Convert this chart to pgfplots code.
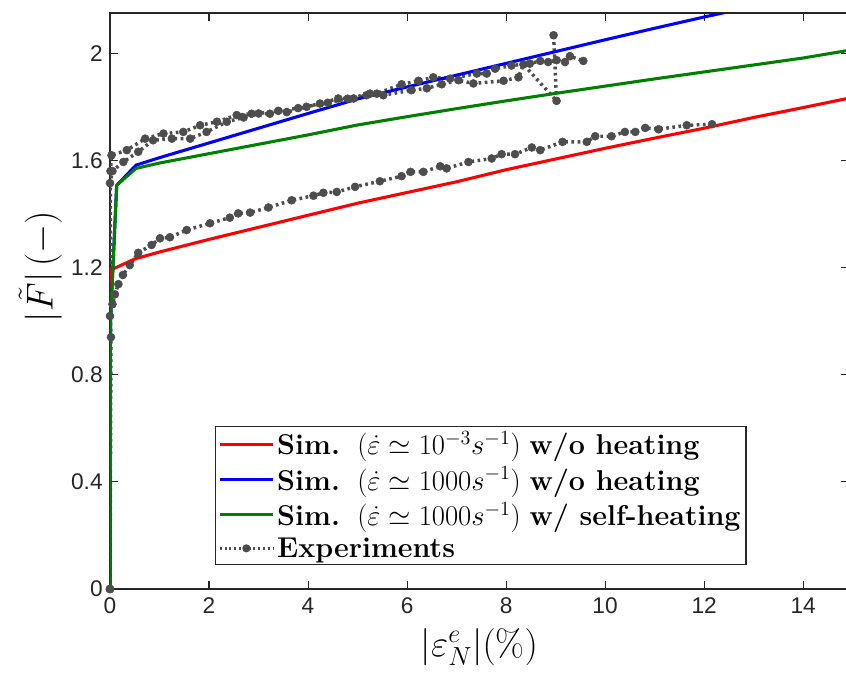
\RequirePackage{fix-cm}
\documentclass[border=0pt]{standalone}
\usepackage{fontspec}
\usepackage{pgfplots}
\pgfplotsset{compat=1.18}
\newfontfamily\tickfont{Liberation Sans}
\definecolor{expgray}{RGB}{77,77,77}
\definecolor{mgreen}{RGB}{0,128,0}
\definecolor{axgray}{RGB}{38,38,38}
\pgfplotsset{
  expstyle/.style={expgray, line width=2.6pt, line cap=butt, dash pattern=on 2pt off 2.6pt, mark=*, mark size=3pt, mark options={solid, fill=expgray, draw=expgray, line width=0.4pt}},
  simstyle/.style={line width=2.3pt, line join=round, no marks},
}
\begin{document}
\begin{tikzpicture}
\begin{axis}[
  scale only axis, width=554pt, height=432pt,
  xmin=0, xmax=14.92, ymin=0, ymax=2.15,
  xtick={0,2,4,6,8,10,12,14},
  xticklabels={0,2,4,6,8,10,12,14},
  ytick={0,0.4,0.8,1.2,1.6,2},
  yticklabels={0,0.4,0.8,1.2,1.6,2},
  tick align=inside, major tick length=6pt,
  xtick pos=both, ytick pos=both, xticklabel pos=lower, yticklabel pos=left,
  axis line style={axgray, line width=0.8pt},
  every tick/.style={axgray, line width=0.8pt},
  tick label style={font=\fontsize{17}{19}\selectfont\tickfont, text=axgray},
  yticklabel style={xshift=-2pt},
  xticklabel style={yshift=-3pt},
  xlabel={$|\varepsilon^e_N|(\%)$},
  ylabel={$|\tilde{F}|\,(-)$},
  label style={font=\fontsize{28}{31}\selectfont},
  xlabel style={yshift=-4pt},
  ylabel style={at={(ticklabel cs:0.56)}, anchor=south, rotate=0},
  legend image code/.code={\draw[mark repeat=2,mark phase=2,#1] plot coordinates {(0pt,0pt) (20pt,0pt) (40pt,0pt)};},
  legend cell align=left,
  legend style={at={(rel axis cs:0.1421,0.0417)}, anchor=south west, draw=axgray, line width=0.8pt, fill=white, inner sep=2pt, font=\fontsize{21.5}{24}\selectfont, row sep=3.5pt},
]
% experiments (lower)
\addplot[expstyle, forget plot] coordinates {
(0,0) (0.02,0.94) (0.0,1.019) (0.05,1.063) (0.1,1.10) (0.17,1.138) (0.26,1.172) (0.4,1.209) (0.57,1.255) (0.84,1.284) (1.01,1.309) (1.21,1.313) (1.55,1.34) (2.02,1.365) (2.42,1.386) (2.59,1.402) (2.83,1.405) (3.2,1.424) (3.67,1.451) (4.11,1.468) (4.31,1.479) (4.58,1.482) (4.95,1.501) (5.45,1.522) (5.89,1.541) (6.07,1.557) (6.33,1.557) (6.67,1.578) (6.8,1.57) (7.24,1.594) (7.71,1.607) (7.91,1.623) (8.18,1.623) (8.52,1.648) (8.69,1.638) (9.14,1.669) (9.63,1.669) (9.8,1.69) (10.13,1.69) (10.4,1.706) (10.61,1.706) (10.81,1.721) (11.08,1.716) (11.65,1.731) (12.16,1.735)
};
% experiments (upper, run A)
\addplot[expstyle, forget plot] coordinates {
(0,0) (0.01,1.56) (0.03,1.619) (0.34,1.638) (0.71,1.681) (1.08,1.70) (1.48,1.706) (1.82,1.731) (2.16,1.744) (2.56,1.769) (2.86,1.774) (3.23,1.774) (3.57,1.78) (3.97,1.80) (4.24,1.812) (4.61,1.831) (4.92,1.831) (5.18,1.843) (5.39,1.849) (5.89,1.884) (6.23,1.897) (6.53,1.91) (6.87,1.905) (7.41,1.924) (7.61,1.924) (7.78,1.942) (8.11,1.954) (8.48,1.961) (8.69,1.971) (8.85,1.967) (9.02,1.974) (9.19,1.967) (9.29,1.989) (9.56,1.971)
};
% experiments (upper, run B)
\addplot[expstyle, forget plot] coordinates {
(0,0) (0,1.515) (0.05,1.56) (0.27,1.594) (0.57,1.632) (0.87,1.675) (1.25,1.681) (1.62,1.681) (1.95,1.706) (2.36,1.744) (2.7,1.76) (3.0,1.775) (3.4,1.785) (3.8,1.795) (4.4,1.815) (4.8,1.83) (5.25,1.849) (5.52,1.843) (6.09,1.862) (6.40,1.869) (6.7,1.884) (7.04,1.899) (7.34,1.887) (7.95,1.897) (8.25,1.91) (8.35,1.958) (9.02,1.822) (8.96,2.067)
};
% simulations
\addplot[simstyle, red] coordinates {
(0,0) (0.005,1.19) (0.5,1.232) (1,1.258) (2,1.305) (3,1.35) (4,1.395) (5,1.44) (6,1.48) (7,1.52) (8,1.565) (9,1.605) (10,1.645) (11,1.683) (12,1.72) (13,1.76) (14,1.797) (15,1.835)
};
\addlegendentry{\textbf{Sim.}\ \ $(\dot{\varepsilon}\simeq 10^{-3}s^{-1})$\ \textbf{w/o heating}}
\addplot[simstyle, blue] coordinates {
(0,0) (0.01,1.0) (0.135,1.507) (0.525,1.582) (1,1.61) (2,1.665) (3,1.72) (4,1.775) (5,1.829) (6,1.874) (7,1.918) (8,1.962) (9,2.006) (10,2.05) (11,2.093) (12,2.135) (13,2.175)
};
\addlegendentry{\textbf{Sim.}\ \ $(\dot{\varepsilon}\simeq 1000s^{-1})$\ \textbf{w/o heating}}
\addplot[simstyle, mgreen] coordinates {
(0,0) (0.01,1.0) (0.135,1.507) (0.525,1.570) (1,1.59) (2,1.625) (3,1.66) (4,1.695) (5,1.732) (6,1.763) (7,1.793) (8,1.822) (9,1.85) (10,1.877) (11,1.904) (12,1.93) (13,1.956) (14,1.982) (15,2.013)
};
\addlegendentry{\textbf{Sim.}\ \ $(\dot{\varepsilon}\simeq 1000s^{-1})$\ \textbf{w/ self-heating}}
\addlegendimage{expgray, line width=2pt, line cap=butt, dash pattern=on 1.6pt off 2pt, mark=*, mark size=2pt, mark options={solid, fill=expgray, draw=expgray}}
\addlegendentry{\textbf{Experiments}}
\end{axis}
\pgfresetboundingbox
\path (-82.5pt,-65.25pt) rectangle (552pt,441.75pt);
\end{tikzpicture}
\end{document}
